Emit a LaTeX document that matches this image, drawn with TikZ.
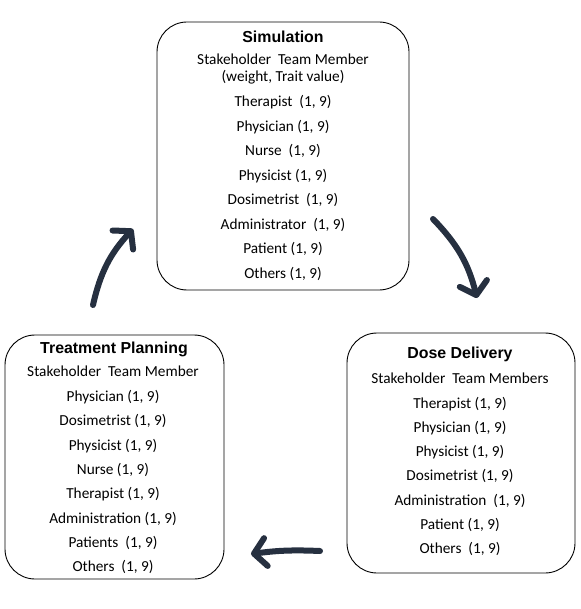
\documentclass[tikz,border=0pt]{standalone}
\usepackage{fontspec}
\setmainfont{Carlito}
\newfontfamily\titlefont{Liberation Sans}
\usetikzlibrary{arrows.meta}
\definecolor{arrowcol}{HTML}{263040}
\tikzset{
  box/.style={draw=black, line width=0.9pt, rounded corners=30pt},
  line/.style={anchor=base, inner sep=0pt, font=\fontsize{15.3}{18}\selectfont},
  title/.style={anchor=base, inner sep=0pt, font=\titlefont\bfseries\fontsize{15.9}{18}\selectfont},
  cyc/.style={draw=arrowcol, line width=6pt, line cap=round,
    -{Straight Barb[length=12pt, width=28pt, round]}}
}
\begin{document}
\begin{tikzpicture}[x=1pt, y=-1pt]
\useasboundingbox (0,0) rectangle (580,609);
% boxes
\draw[box] (157,22) rectangle (409,290);
\draw[box] (5,335) rectangle (224,579);
\draw[box] (347,333) rectangle (575,573);
% Simulation
\node[title] (simt) at (283,42.3) {Simulation};
\foreach \t/\y [count=\i] in {{Stakeholder~~Team Member}/65,
  {(weight, Trait value)}/81.7,
  {Therapist~~(1, 9)}/106.7,
  {Physician (1, 9)}/131.2,
  {Nurse~~(1, 9)}/155.7,
  {Physicist (1, 9)}/180.4,
  {Dosimetrist~~(1, 9)}/205,
  {Administrator~~(1, 9)}/229.4,
  {Patient (1, 9)}/254,
  {Others (1, 9)}/278.4}
  \node[line, name=s\i] at (283,\y) {\t};
% Treatment Planning
\node[title] (tpt) at (114,353.3) {Treatment Planning};
\foreach \t/\y [count=\i] in {{Stakeholder~~Team Member}/376.9,
  {Physician (1, 9)}/401.5,
  {Dosimetrist (1, 9)}/425.8,
  {Physicist (1, 9)}/450,
  {Nurse (1, 9)}/474.3,
  {Therapist (1, 9)}/498.5,
  {Administration (1, 9)}/523,
  {Patients~~(1, 9)}/547,
  {Others~~(1, 9)}/571.2}
  \node[line, name=t\i] at (113,\y) {\t};
% Dose Delivery
\node[title] (ddt) at (460,358.3) {Dose Delivery};
\foreach \t/\y [count=\i] in {{Stakeholder~~Team Members}/383.3,
  {Therapist (1, 9)}/408,
  {Physician (1, 9)}/432.2,
  {Physicist (1, 9)}/456.5,
  {Dosimetrist (1, 9)}/480.8,
  {Administration~~(1, 9)}/505,
  {Patient (1, 9)}/529.3,
  {Others~~(1, 9)}/553.5}
  \node[line, name=d\i] at (460,\y) {\t};
% arrows
\coordinate (a1s) at (93,305);
\coordinate (a1e) at (133,229);
\coordinate (a2s) at (433,219);
\coordinate (a2e) at (477,298);
\coordinate (a3s) at (320,551);
\coordinate (a3e) at (251,554);
\draw[cyc] (a1s) to[bend left=15] (a1e);
\draw[cyc] (a2s) to[bend left=15] (a2e);
\draw[cyc] (a3s) to[bend right=5] (a3e);
\end{tikzpicture}
\end{document}
